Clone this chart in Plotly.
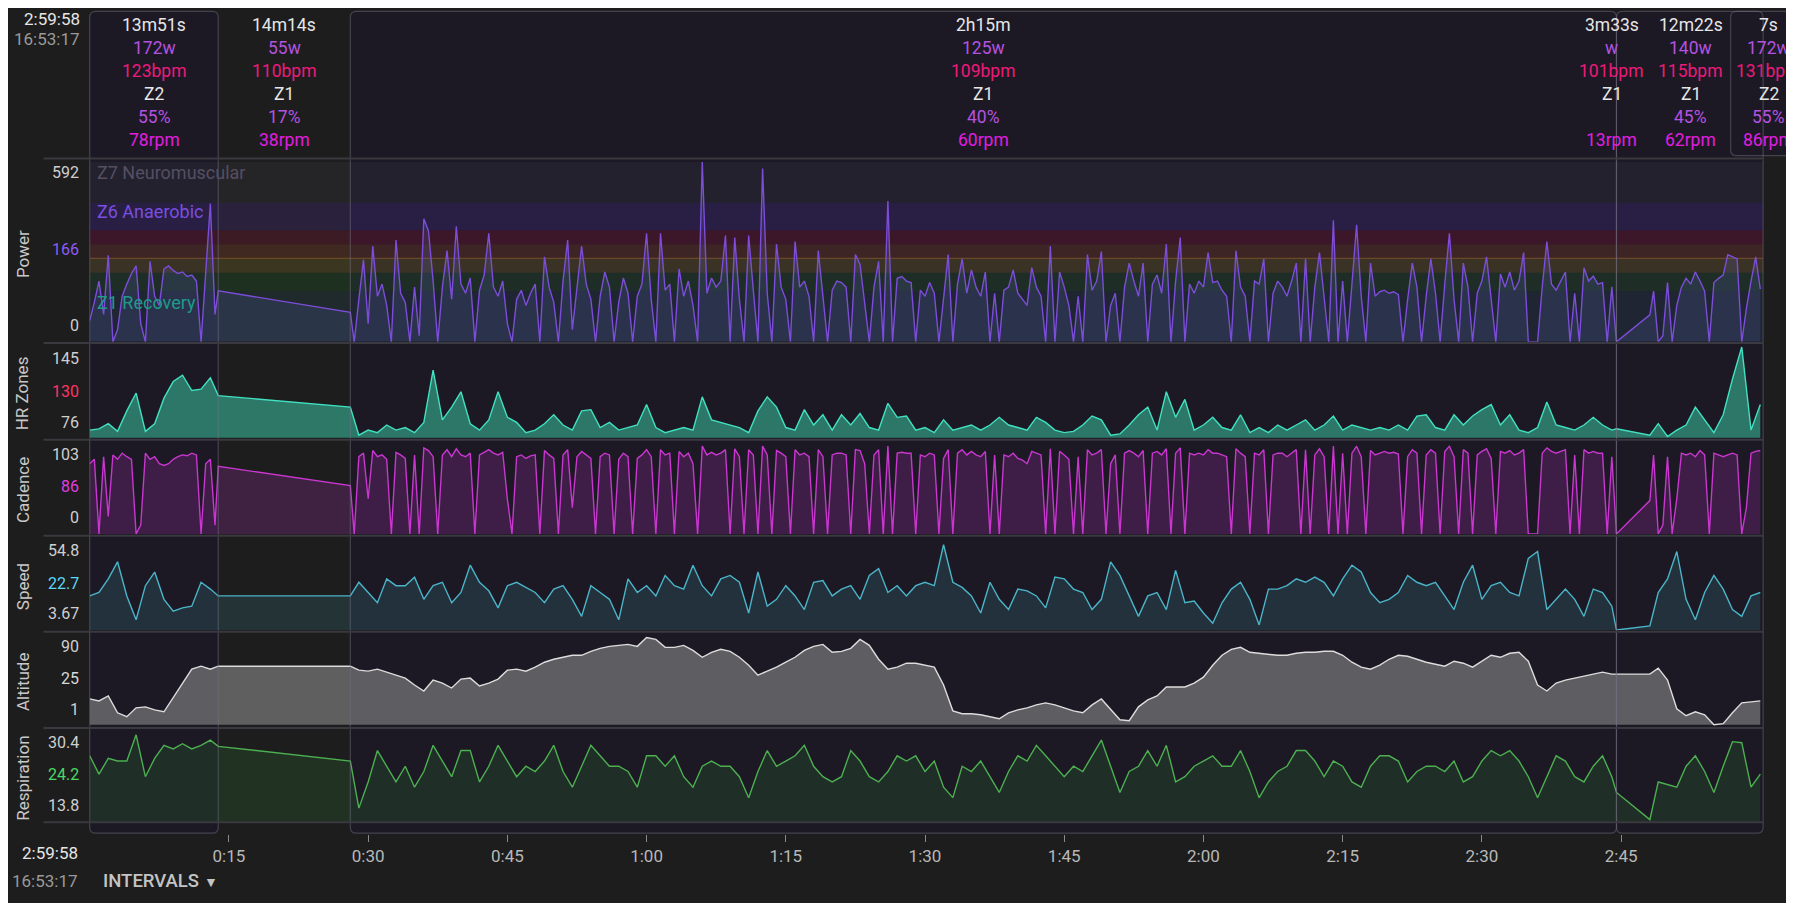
import plotly.graph_objects as go

# ---------------- header / intervals ----------------
interval_names = ["13m51s", "14m14s", "2h15m", "3m33s", "12m22s", "7s"]
interval_watts = ["172w", "55w", "125w", "w", "140w", "172w"]
interval_bpm = ["123bpm", "110bpm", "109bpm", "101bpm", "115bpm", "131bpm"]
interval_zone = ["Z2", "Z1", "Z1", "Z1", "Z1", "Z2"]
interval_pct = ["55%", "17%", "40%", "", "45%", "55%"]
interval_rpm = ["78rpm", "38rpm", "60rpm", "13rpm", "62rpm", "86rpm"]
label_minutes = [6.93, 20.97, 96.3, 164.0, 172.5, 180.9]

box_spans = [(0, 13.85), (28.08, 164.5), (164.5, 180.3)]
header_box = (176.8, 186.0)

tick_minutes = [15, 30, 45, 60, 75, 90, 105, 120, 135, 150, 165]
tick_text = ["0:15", "0:30", "0:45", "1:00", "1:15", "1:30", "1:45",
             "2:00", "2:15", "2:30", "2:45"]

# power zones (W)
zone_lo = [0, 166, 227, 275, 321, 367, 457]
zone_hi = [166, 227, 275, 321, 367, 457, 592]
zone_fill = ["rgba(60,150,180,0.10)", "rgba(40,170,60,0.14)", "rgba(210,180,40,0.17)",
             "rgba(230,100,50,0.17)", "rgba(220,20,70,0.17)", "rgba(110,60,230,0.16)",
             "rgba(140,130,160,0.08)"]


def grid(start, stop, step):
    out, v = [], start
    while v <= stop + 1e-9:
        out.append(round(v, 2))
        v += step
    return out


# sample times (minutes); gaps between segments are bridged by straight lines
t_half = grid(0, 13.5, 0.5) + [13.85, 28.08] + grid(28.5, 164.5, 0.5) + [168.1] + grid(168.5, 180, 0.5)
t_min = grid(0, 13, 1) + [13.85, 28.08] + grid(29, 164, 1) + [164.5, 168.1] + grid(169, 180, 1)

power = [70, 130, 200, 90, 285, 0, 40, 150, 190, 225, 250, 60, 0, 265, 150,
         120, 240, 250, 235, 225, 230, 215, 220, 200, 0, 230, 455, 90, 168,
         97,
         0, 140, 270, 60, 315, 150, 190, 120, 0, 335,
         160, 130, 0, 180, 20, 405, 365, 200, 0, 180,
         300, 140, 380, 190, 160, 210, 0, 170, 220, 357,
         180, 150, 200, 60, 0, 140, 170, 120, 160, 190,
         0, 280, 180, 130, 0, 200, 335, 40, 170, 315,
         190, 140, 0, 150, 230, 180, 0, 130, 210, 160,
         0, 150, 190, 357, 140, 0, 357, 170, 190, 0,
         240, 150, 200, 120, 0, 592, 160, 210, 180, 200,
         350, 0, 343, 140, 0, 350, 170, 0, 570, 160,
         0, 322, 180, 140, 0, 330, 180, 200, 150, 0,
         300, 140, 0, 170, 200, 195, 180, 0, 287, 255,
         120, 0, 180, 265, 0, 463, 0, 209, 215, 200,
         195, 0, 170, 150, 195, 160, 0, 140, 287, 0,
         190, 273, 160, 237, 180, 150, 230, 0, 160, 0,
         170, 180, 237, 160, 140, 120, 244, 180, 150, 0,
         315, 0, 230, 180, 120, 0, 150, 0, 287, 170,
         200, 297, 0, 120, 160, 0, 180, 259, 200, 150,
         259, 0, 190, 220, 160, 322, 0, 200, 343, 0,
         190, 160, 200, 180, 294, 195, 200, 170, 150, 0,
         300, 180, 150, 0, 200, 190, 273, 0, 160, 200,
         180, 150, 200, 259, 0, 273, 0, 180, 294, 140,
         0, 400, 0, 200, 0, 190, 385, 150, 0, 259,
         150, 165, 170, 160, 165, 155, 0, 140, 259, 180,
         0, 150, 273, 160, 0, 190, 357, 140, 0, 259,
         180, 0, 160, 200, 280, 140, 0, 223, 180, 230,
         170, 200, 294, 0, 0, 0, 180, 330, 190, 170,
         200, 230, 0, 160, 0, 244, 200, 216, 190, 195,
         0, 181, 0,
         89, 167, 0, 20, 195, 0, 120, 180, 209, 190, 230, 200, 167, 0, 195,
         209, 220, 287, 280, 273, 0, 110, 200, 280, 174]

cadence = [80, 85, 0, 88, 20, 90, 85, 92, 88, 85, 0, 10, 92, 85, 88,
           80, 78, 80, 85, 88, 90, 89, 92, 90, 0, 80, 85, 10, 77,
           55,
           0, 88, 92, 40, 95, 88, 90, 85, 0, 93,
           90, 86, 0, 90, 0, 98, 95, 88, 0, 90,
           96, 88, 97, 90, 88, 92, 0, 90, 93, 96,
           92, 90, 93, 40, 0, 88, 90, 86, 89, 90,
           0, 95, 90, 86, 0, 90, 96, 30, 88, 94,
           90, 86, 0, 88, 92, 90, 0, 85, 92, 88,
           0, 86, 90, 96, 88, 0, 96, 90, 92, 0,
           94, 88, 92, 80, 0, 100, 90, 93, 90, 92,
           96, 0, 97, 88, 0, 96, 90, 0, 100, 90,
           0, 95, 92, 88, 0, 96, 90, 92, 88, 0,
           96, 88, 0, 90, 92, 92, 90, 0, 96, 95,
           80, 0, 90, 96, 0, 100, 0, 92, 93, 92,
           92, 0, 90, 88, 92, 90, 0, 86, 96, 0,
           92, 96, 90, 94, 90, 88, 94, 0, 90, 0,
           90, 88, 92, 86, 84, 80, 94, 92, 90, 0,
           97, 0, 94, 90, 85, 0, 88, 0, 96, 90,
           92, 96, 0, 80, 90, 0, 92, 95, 92, 88,
           95, 0, 92, 94, 90, 97, 0, 92, 98, 0,
           92, 90, 92, 90, 96, 92, 92, 90, 88, 0,
           97, 92, 88, 0, 92, 90, 96, 0, 90, 92,
           92, 88, 92, 96, 0, 96, 0, 90, 97, 88,
           0, 100, 0, 92, 0, 92, 100, 88, 0, 95,
           90, 92, 94, 92, 93, 91, 0, 88, 96, 92,
           0, 90, 96, 92, 0, 94, 100, 88, 0, 96,
           92, 0, 90, 94, 97, 86, 0, 94, 92, 95,
           90, 92, 96, 0, 0, 0, 92, 98, 94, 92,
           94, 96, 0, 90, 0, 96, 92, 94, 92, 92,
           0, 88, 0,
           38, 90, 0, 10, 88, 0, 40, 92, 90, 92, 88, 95, 90, 0, 92,
           90, 88, 90, 92, 90, 0, 30, 92, 94, 95]

heart_rate = [80, 81, 85, 79, 95, 109, 79, 85, 105, 118, 123, 111, 112, 121, 107,
              98,
              76, 80, 78, 84, 80, 82, 78, 86, 127, 88,
              98, 110, 85, 80, 88, 110, 90, 86, 78, 80,
              85, 92, 84, 80, 95, 96, 82, 86, 80, 82,
              84, 100, 82, 78, 80, 82, 80, 106, 88, 86,
              84, 82, 78, 95, 106, 98, 82, 80, 96, 84,
              92, 80, 92, 84, 93, 82, 80, 101, 90, 91,
              80, 82, 78, 88, 80, 82, 84, 80, 84, 90,
              84, 82, 80, 90, 86, 80, 78, 79, 84, 91,
              88, 76, 77, 84, 92, 98, 80, 110, 90, 104,
              80, 84, 90, 82, 80, 92, 78, 82, 78, 84,
              80, 84, 88, 80, 84, 91, 80, 84, 82, 80,
              82, 80, 84, 80, 91, 92, 82, 80, 92, 84,
              91, 96, 100, 84, 92, 80, 78, 82, 102, 84,
              82, 80, 84, 90, 84, 80,
              81,
              76, 85, 75, 80, 84, 98, 88, 78, 92, 120, 145, 80, 100]

speed = [22, 24, 32, 42, 22, 8, 28, 36, 20, 13, 15, 16, 30, 26, 22,
         22,
         30, 24, 18, 32, 28, 28, 33, 20, 28, 30,
         18, 24, 40, 30, 25, 15, 28, 30, 27, 24,
         18, 26, 28, 20, 10, 28, 24, 20, 8, 32,
         24, 28, 22, 34, 28, 26, 40, 28, 22, 32,
         34, 30, 12, 36, 16, 20, 28, 22, 14, 30,
         31, 22, 26, 28, 20,
         34, 38, 24, 28, 22, 28, 30, 28, 52, 30,
         27, 22, 12, 30, 20, 14, 26, 25, 22, 15,
         33, 32, 26, 24, 14, 20, 42, 34, 22, 10,
         22, 24, 14, 37, 18, 19, 12, 6, 18, 26,
         30, 20, 5, 26, 26, 28, 32,
         30, 33, 30, 22, 32, 40, 36, 24, 18, 20,
         24, 34, 30, 28, 30, 22, 14, 30, 40, 20,
         28, 30, 24, 22, 44, 48, 14, 20, 26, 20,
         10, 26, 24, 16,
         2,
         4.4, 24, 32, 48, 20, 8, 24, 34, 26, 14, 10, 22, 24]

altitude = [26, 24, 29, 12, 8, 17, 18, 15, 13, 27, 42, 56, 59, 56, 59,
            59,
            55, 54, 56, 53, 50, 47, 40, 34, 45, 42,
            37, 46, 47, 39, 42, 46, 55, 56, 54, 58,
            63, 66, 68, 70, 70, 74, 77, 79, 80, 81,
            79, 88, 86, 78, 78, 80, 75, 68, 73, 76,
            74, 68, 60, 50, 54, 58, 63, 68, 75, 79,
            81, 73, 74, 77, 86,
            80, 66, 56, 58, 62, 62, 60, 58, 40, 14,
            11, 11, 10, 8, 6, 12, 15, 17, 20, 22,
            20, 17, 14, 12, 20, 26, 16, 5, 4, 18,
            25, 29, 38, 38, 38, 42, 48, 60, 70, 76,
            78, 73, 72, 71, 70, 70, 72,
            73, 73, 74, 74, 70, 63, 58, 56, 60, 66,
            70, 69, 66, 63, 61, 59, 64, 62, 58, 64,
            70, 68, 72, 73, 64, 40, 34, 42, 45, 47,
            49, 51, 53, 51,
            51,
            51, 57, 45, 16, 9, 13, 10, 0, 1, 12, 22, 23, 24]

respiration = [26, 22.5, 25.5, 25, 25, 30, 22, 25.5, 28, 27.3, 28.3, 27.3, 28, 29, 27.8,
               25,
               16, 21, 27, 24, 21, 24, 20, 23, 28, 25,
               22, 27, 27, 21, 24, 28, 25, 22, 24, 23,
               25, 28, 23, 20, 24, 28, 26, 24, 24, 23,
               20, 26, 26, 24, 26, 22, 20, 24, 25, 24,
               24, 22, 18, 23, 27, 24, 25, 26, 28, 24,
               22, 21, 22, 27, 25,
               22, 21, 23, 26, 25, 26, 23, 25, 20, 18,
               24, 23, 25, 22, 19, 23, 26, 25, 28, 26,
               24, 22, 24, 23, 26, 29, 24, 19, 23, 24,
               27, 24, 28, 21, 22, 24, 25, 26, 24, 24,
               27, 23, 18, 21, 23, 24, 27,
               27, 25, 22, 25, 24, 21, 20, 24, 26, 26,
               25, 21, 23, 24, 24, 23, 25, 21, 22, 25,
               27, 26, 27, 25, 22, 18, 22, 26, 25, 22,
               21, 24, 26, 22,
               19,
               13.8, 21, 20.5, 20, 24, 26, 23, 19, 24, 28.7, 28.5, 20, 22.5]

# axis labels: max / average (coloured) / min
panel_titles = ["Power", "HR Zones", "Cadence", "Speed", "Altitude", "Respiration"]
label_top = ["592", "145", "103", "54.8", "90", "30.4"]
label_mid = ["166", "130", "86", "22.7", "25", "24.2"]
label_bot = ["0", "76", "0", "3.67", "1", "13.8"]

# ---------------- layout helpers ----------------
# positions are measured on a 1568 x 789 copy of the target; the page puts the
# figure 8px in from the top-left corner, so that offset is taken back out here
FIG_W, FIG_H, PAGE_OFF = 1794, 903, 8
fx = lambda d: (d * FIG_W / 1568 - PAGE_OFF) / FIG_W
fy = lambda d: 1 - (d * FIG_H / 789 - PAGE_OFF) / FIG_H
X0, X1 = fx(78.4), fx(1541)
XMAX = 180.3
tx = lambda t: X0 + t / XMAX * (X1 - X0)

panels = [(141.5, 298.7), (301, 382.5), (386, 466.5), (470, 550.5), (553.5, 634.5), (637.5, 718)]
y_ranges = [[0, 592], [74, 147], [0, 105], [2, 56], [-1.5, 92], [13.4, 31]]
label_rows = [(151, 218, 284), (313, 342, 369), (397, 425, 452),
              (481, 510, 536), (565, 593, 620), (649, 677, 704)]
mid_colors = ["#8b5cf6", "#ff3366", "#e03de0", "#5ad8f5", "#d8d8d8", "#4cd964"]
line_colors = ["#7c4dd8", "#40e0c0", "#c936d0", "#4ab4c8", "#dcdcdc", "#4caf50"]
fill_colors = ["rgba(100,120,220,0.16)", "rgba(52,160,135,0.70)", "rgba(200,50,210,0.20)",
               "rgba(80,190,200,0.15)", "rgba(150,150,150,0.55)", "rgba(60,170,70,0.15)"]
series = [(t_half, power), (t_min, heart_rate), (t_half, cadence),
          (t_min, speed), (t_min, altitude), (t_min, respiration)]

FONT = "Roboto"
fig = go.Figure()

for i, ((tt, vv), lc, fc) in enumerate(zip(series, line_colors, fill_colors), start=1):
    assert len(tt) == len(vv), (i, len(tt), len(vv))
    fig.add_trace(go.Scatter(x=tt, y=vv, mode="lines", line=dict(color=lc, width=1.4),
                             fill="tozeroy", fillcolor=fc, hoverinfo="skip",
                             showlegend=False, xaxis=f"x{i}", yaxis=f"y{i}"))

# carrier for the time axis below the panels
fig.add_trace(go.Scatter(x=[0, XMAX], y=[None, None], mode="lines", hoverinfo="skip",
                         showlegend=False, xaxis="x7", yaxis="y6"))

layout_axes = {}
for i, ((top, bot), yr) in enumerate(zip(panels, y_ranges), start=1):
    layout_axes[f"xaxis{i}"] = dict(domain=[X0, X1], range=[0, XMAX], visible=False,
                                    anchor=f"y{i}", fixedrange=True)
    layout_axes[f"yaxis{i}"] = dict(domain=[fy(bot), fy(top)], range=yr, visible=False,
                                    anchor=f"x{i}", fixedrange=True)
layout_axes["xaxis7"] = dict(domain=[X0, X1], range=[0, XMAX], anchor="free", position=fy(728.5),
                             side="bottom", tickmode="array", tickvals=tick_minutes,
                             ticktext=tick_text, ticks="outside", ticklen=7, tickwidth=1,
                             tickcolor="#8a8a8a", showline=False, showgrid=False,
                             zeroline=False, tickfont=dict(color="#b8b8b8", size=17, family=FONT))

shapes = []


def rounded(x0, x1, ytop, ybot, r=6):
    rx, ry = r / FIG_W, r / FIG_H
    return (f"M {x0+rx},{ytop} L {x1-rx},{ytop} Q {x1},{ytop} {x1},{ytop-ry} "
            f"L {x1},{ybot+ry} Q {x1},{ybot} {x1-rx},{ybot} L {x0+rx},{ybot} "
            f"Q {x0},{ybot} {x0},{ybot+ry} L {x0},{ytop-ry} Q {x0},{ytop} {x0+rx},{ytop} Z")


box_paths = [rounded(tx(a), tx(b), fy(10), fy(728)) for a, b in box_spans]
box_paths.append(rounded(tx(header_box[0]), tx(header_box[1]), fy(10), fy(136)))
for p in box_paths:
    shapes.append(dict(type="path", path=p, xref="paper", yref="paper", layer="below",
                       fillcolor="#1c1924", line=dict(width=0)))

for lo, hi, col in zip(zone_lo, zone_hi, zone_fill):
    shapes.append(dict(type="rect", xref="x", yref="y", x0=0, x1=XMAX, y0=lo, y1=hi,
                       layer="below", fillcolor=col, line=dict(width=0)))
shapes.append(dict(type="line", xref="x", yref="y", x0=0, x1=XMAX, y0=zone_hi[2], y1=zone_hi[2],
                   layer="below", line=dict(color="rgba(230,150,50,0.35)", width=1)))

for p in box_paths:
    shapes.append(dict(type="path", path=p, xref="paper", yref="paper", layer="above",
                       fillcolor="rgba(0,0,0,0)", line=dict(color="rgba(120,115,135,0.45)", width=1.2)))

for ysep in [138.5, 299.8, 384.2, 468.2, 552, 636, 718.5]:
    shapes.append(dict(type="line", xref="paper", yref="paper", x0=fx(38), x1=X1,
                       y0=fy(ysep), y1=fy(ysep), layer="above",
                       line=dict(color="#3a393f", width=2)))

ann = []


def text(x, y, s, color, size=17, xanchor="center", angle=0, weight="normal"):
    ann.append(dict(x=x, y=y, xref="paper", yref="paper", text=s, showarrow=False,
                    xanchor=xanchor, yanchor="middle", textangle=angle,
                    font=dict(family=FONT, size=size, color=color, weight=weight)))


row_colors = ["#e6e6e6", "#b452e0", "#ec1a7a", "#e6e6e6", "#b452e0", "#e01ee0"]
rows_text = [interval_names, interval_watts, interval_bpm, interval_zone, interval_pct, interval_rpm]
for r, (vals, col) in enumerate(zip(rows_text, row_colors)):
    for lm, s in zip(label_minutes, vals):
        if s:
            text(tx(lm), fy(22 + 20 * r), s, col, size=17.5)

for i, (title, (top, bot)) in enumerate(zip(panel_titles, panels)):
    text(fx(20), fy((top + bot) / 2 + 2), title, "#c8c8c8", size=17, angle=-90)
    ya, yb, yc = label_rows[i]
    text(fx(71), fy(ya), label_top[i], "#cfcfcf", size=16, xanchor="right")
    text(fx(71), fy(yb), label_mid[i], mid_colors[i], size=16, xanchor="right")
    text(fx(71), fy(yc), label_bot[i], "#cfcfcf", size=16, xanchor="right")

text(fx(83), fy(151), "Z7 Neuromuscular", "#554f63", size=18, xanchor="left")
text(fx(83), fy(185), "Z6 Anaerobic", "#7a4fe0", size=18, xanchor="left")
text(fx(83), fy(264), "Z1 Recovery", "#1f9a8a", size=18, xanchor="left")

text(fx(72), fy(17), "2:59:58", "#e6e6e6", size=17, xanchor="right")
text(fx(72), fy(34), "16:53:17", "#9a9a9a", size=17, xanchor="right")
text(fx(70), fy(745), "2:59:58", "#e6e6e6", size=17, xanchor="right")
text(fx(70), fy(770), "16:53:17", "#9a9a9a", size=17, xanchor="right")
text(fx(88), fy(770), "INTERVALS", "#c4c4c4", size=18.5, xanchor="left", weight=500)
text(fx(184), fy(771), "▼", "#c4c4c4", size=14)

fig.update_layout(
    width=FIG_W, height=FIG_H, autosize=False,
    margin=dict(l=0, r=0, t=0, b=0),
    paper_bgcolor="#1d1d1d", plot_bgcolor="rgba(0,0,0,0)",
    showlegend=False, shapes=shapes, annotations=ann,
    font=dict(family=FONT, color="#cccccc"),
    **layout_axes,
)

fig.write_html("out.html")
